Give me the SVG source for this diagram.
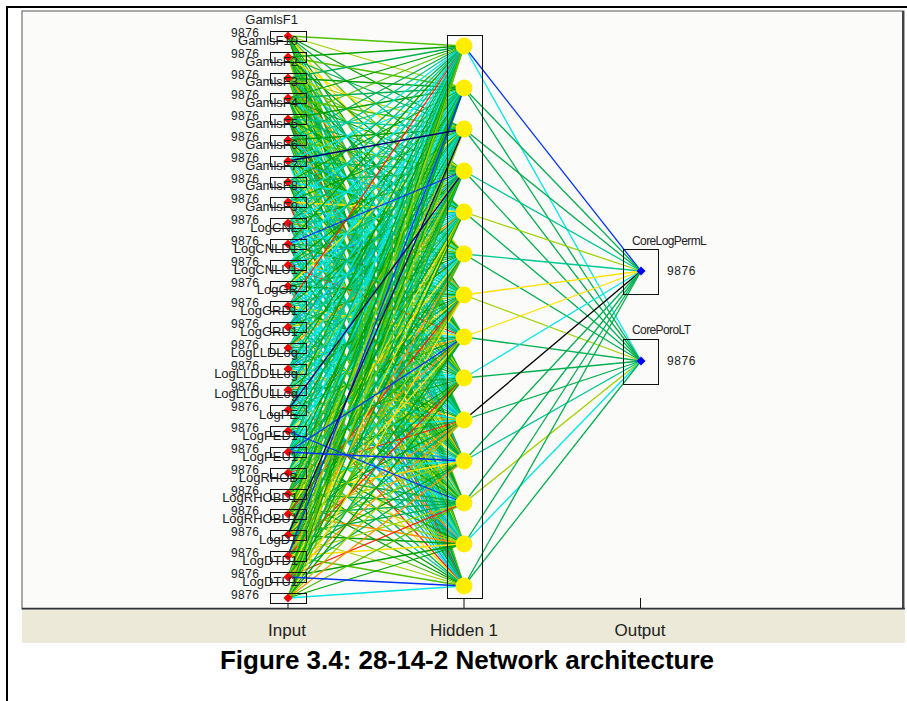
<svg xmlns="http://www.w3.org/2000/svg" width="907" height="701" viewBox="0 0 907 701">
<style>
.nm{font-family:"Liberation Sans",Arial,sans-serif;font-size:13px;fill:#222;text-anchor:end}
.v{font-family:"Liberation Sans",Arial,sans-serif;font-size:12px;fill:#222;letter-spacing:0.4px}
.ov{font-family:"Liberation Sans",Arial,sans-serif;font-size:12px;fill:#222;letter-spacing:0.6px}
.ol{font-family:"Liberation Sans",Arial,sans-serif;font-size:12px;fill:#222;letter-spacing:-0.6px}
.ax{font-family:"Liberation Sans",Arial,sans-serif;font-size:17px;fill:#222;text-anchor:middle}
.cap{font-family:"Liberation Sans",Arial,sans-serif;font-size:26px;font-weight:bold;fill:#000;text-anchor:middle}
.bx{fill:none;stroke:#111;stroke-width:1}
.dm{fill:#ff0000}
.odm{fill:#0000ff}
.hn{fill:#ffee00}
#connectors path{fill:none;stroke-width:1.3}
.a{stroke:#00a000}.b{stroke:#00b050}.c{stroke:#50c000}.d{stroke:#a0d000}.e{stroke:#00c890}.f{stroke:#00e8e8}.g{stroke:#00a8f0}.h{stroke:#ffe000}.k{stroke:#ff9000}.r{stroke:#ff2000}.u{stroke:#0030ff}.n{stroke:#000070}.x{stroke:#000}
</style>
<!-- frame -->
<rect x="0" y="0" width="907" height="701" fill="#fff"/>
<rect x="22" y="11" width="882" height="598" fill="#fbfcfa" stroke="#555" stroke-width="1"/>
<line x1="903" y1="11" x2="903" y2="609" stroke="#444" stroke-width="2"/>
<line x1="22" y1="608.5" x2="905" y2="608.5" stroke="#333" stroke-width="1.5"/>
<rect x="22" y="610" width="883" height="33" fill="#ece9d8"/>
<line x1="6" y1="7" x2="907" y2="7" stroke="#000" stroke-width="2"/>
<line x1="7" y1="6" x2="7" y2="701" stroke="#000" stroke-width="2"/>
<g id="connectors">
<path class="c" d="M288 36 464 46"/><path class="d" d="M288 36 464 88"/><path class="a" d="M288 36 464 129"/><path class="b" d="M288 36 464 171"/><path class="c" d="M288 36 464 212"/><path class="h" d="M288 36 464 254"/><path class="a" d="M288 36 464 295"/><path class="b" d="M288 36 464 337"/><path class="e" d="M288 36 464 378"/><path class="c" d="M288 36 464 420"/><path class="a" d="M288 36 464 461"/><path class="d" d="M288 36 464 503"/><path class="b" d="M288 36 464 544"/><path class="a" d="M288 36 464 586"/>
<path class="a" d="M288 57 464 46"/><path class="c" d="M288 57 464 88"/><path class="b" d="M288 57 464 129"/><path class="h" d="M288 57 464 171"/><path class="a" d="M288 57 464 212"/><path class="d" d="M288 57 464 254"/><path class="b" d="M288 57 464 295"/><path class="c" d="M288 57 464 337"/><path class="a" d="M288 57 464 378"/><path class="e" d="M288 57 464 420"/><path class="b" d="M288 57 464 461"/><path class="c" d="M288 57 464 503"/><path class="a" d="M288 57 464 544"/><path class="d" d="M288 57 464 586"/>
<path class="b" d="M288 78 464 46"/><path class="a" d="M288 78 464 88"/><path class="d" d="M288 78 464 129"/><path class="c" d="M288 78 464 171"/><path class="e" d="M288 78 464 212"/><path class="a" d="M288 78 464 254"/><path class="k" d="M288 78 464 295"/><path class="b" d="M288 78 464 337"/><path class="c" d="M288 78 464 378"/><path class="a" d="M288 78 464 420"/><path class="f" d="M288 78 464 461"/><path class="b" d="M288 78 464 503"/><path class="d" d="M288 78 464 544"/><path class="c" d="M288 78 464 586"/>
<path class="a" d="M288 98 464 46"/><path class="b" d="M288 98 464 88"/><path class="c" d="M288 98 464 129"/><path class="a" d="M288 98 464 171"/><path class="f" d="M288 98 464 212"/><path class="b" d="M288 98 464 254"/><path class="d" d="M288 98 464 295"/><path class="a" d="M288 98 464 337"/><path class="h" d="M288 98 464 378"/><path class="e" d="M288 98 464 420"/><path class="b" d="M288 98 464 461"/><path class="a" d="M288 98 464 503"/><path class="c" d="M288 98 464 544"/><path class="b" d="M288 98 464 586"/>
<path class="c" d="M288 119 464 46"/><path class="a" d="M288 119 464 88"/><path class="e" d="M288 119 464 129"/><path class="b" d="M288 119 464 171"/><path class="a" d="M288 119 464 212"/><path class="d" d="M288 119 464 254"/><path class="f" d="M288 119 464 295"/><path class="b" d="M288 119 464 337"/><path class="c" d="M288 119 464 378"/><path class="a" d="M288 119 464 420"/><path class="r" d="M288 119 464 461"/><path class="b" d="M288 119 464 503"/><path class="e" d="M288 119 464 544"/><path class="a" d="M288 119 464 586"/>
<path class="b" d="M288 140 464 46"/><path class="e" d="M288 140 464 88"/><path class="a" d="M288 140 464 129"/><path class="c" d="M288 140 464 171"/><path class="b" d="M288 140 464 212"/><path class="f" d="M288 140 464 254"/><path class="a" d="M288 140 464 295"/><path class="d" d="M288 140 464 337"/><path class="b" d="M288 140 464 378"/><path class="e" d="M288 140 464 420"/><path class="c" d="M288 140 464 461"/><path class="a" d="M288 140 464 503"/><path class="h" d="M288 140 464 544"/><path class="b" d="M288 140 464 586"/>
<path class="e" d="M288 161 464 46"/><path class="f" d="M288 161 464 88"/><path class="b" d="M288 161 464 171"/><path class="g" d="M288 161 464 212"/><path class="a" d="M288 161 464 254"/><path class="e" d="M288 161 464 295"/><path class="f" d="M288 161 464 337"/><path class="d" d="M288 161 464 378"/><path class="b" d="M288 161 464 420"/><path class="h" d="M288 161 464 461"/><path class="e" d="M288 161 464 503"/><path class="a" d="M288 161 464 544"/><path class="f" d="M288 161 464 586"/>
<path class="f" d="M288 182 464 46"/><path class="a" d="M288 182 464 88"/><path class="e" d="M288 182 464 129"/><path class="b" d="M288 182 464 171"/><path class="f" d="M288 182 464 212"/><path class="d" d="M288 182 464 254"/><path class="e" d="M288 182 464 295"/><path class="g" d="M288 182 464 337"/><path class="a" d="M288 182 464 378"/><path class="f" d="M288 182 464 420"/><path class="b" d="M288 182 464 461"/><path class="k" d="M288 182 464 503"/><path class="e" d="M288 182 464 544"/><path class="a" d="M288 182 464 586"/>
<path class="b" d="M288 202 464 46"/><path class="f" d="M288 202 464 88"/><path class="a" d="M288 202 464 129"/><path class="e" d="M288 202 464 171"/><path class="h" d="M288 202 464 212"/><path class="f" d="M288 202 464 254"/><path class="b" d="M288 202 464 295"/><path class="e" d="M288 202 464 337"/><path class="g" d="M288 202 464 378"/><path class="a" d="M288 202 464 420"/><path class="d" d="M288 202 464 461"/><path class="f" d="M288 202 464 503"/><path class="e" d="M288 202 464 544"/><path class="r" d="M288 202 464 586"/>
<path class="e" d="M288 223 464 46"/><path class="b" d="M288 223 464 88"/><path class="f" d="M288 223 464 129"/><path class="a" d="M288 223 464 171"/><path class="e" d="M288 223 464 212"/><path class="c" d="M288 223 464 254"/><path class="f" d="M288 223 464 295"/><path class="b" d="M288 223 464 337"/><path class="e" d="M288 223 464 378"/><path class="f" d="M288 223 464 420"/><path class="a" d="M288 223 464 461"/><path class="h" d="M288 223 464 503"/><path class="e" d="M288 223 464 544"/><path class="g" d="M288 223 464 586"/>
<path class="a" d="M288 244 464 46"/><path class="e" d="M288 244 464 88"/><path class="f" d="M288 244 464 129"/><path class="f" d="M288 244 464 212"/><path class="b" d="M288 244 464 254"/><path class="a" d="M288 244 464 295"/><path class="e" d="M288 244 464 337"/><path class="d" d="M288 244 464 378"/><path class="f" d="M288 244 464 420"/><path class="e" d="M288 244 464 461"/><path class="b" d="M288 244 464 503"/><path class="f" d="M288 244 464 544"/><path class="a" d="M288 244 464 586"/>
<path class="f" d="M288 265 464 46"/><path class="e" d="M288 265 464 88"/><path class="a" d="M288 265 464 129"/><path class="b" d="M288 265 464 171"/><path class="g" d="M288 265 464 212"/><path class="e" d="M288 265 464 254"/><path class="f" d="M288 265 464 295"/><path class="r" d="M288 265 464 337"/><path class="b" d="M288 265 464 378"/><path class="e" d="M288 265 464 420"/><path class="a" d="M288 265 464 461"/><path class="f" d="M288 265 464 503"/><path class="d" d="M288 265 464 544"/><path class="e" d="M288 265 464 586"/>
<path class="e" d="M288 286 464 46"/><path class="a" d="M288 286 464 88"/><path class="h" d="M288 286 464 129"/><path class="f" d="M288 286 464 171"/><path class="e" d="M288 286 464 212"/><path class="b" d="M288 286 464 254"/><path class="a" d="M288 286 464 295"/><path class="f" d="M288 286 464 337"/><path class="e" d="M288 286 464 378"/><path class="g" d="M288 286 464 420"/><path class="b" d="M288 286 464 461"/><path class="d" d="M288 286 464 503"/><path class="f" d="M288 286 464 544"/><path class="e" d="M288 286 464 586"/>
<path class="r" d="M288 306 464 46"/><path class="f" d="M288 306 464 88"/><path class="e" d="M288 306 464 129"/><path class="a" d="M288 306 464 171"/><path class="f" d="M288 306 464 212"/><path class="b" d="M288 306 464 254"/><path class="e" d="M288 306 464 295"/><path class="h" d="M288 306 464 337"/><path class="a" d="M288 306 464 378"/><path class="f" d="M288 306 464 420"/><path class="e" d="M288 306 464 461"/><path class="b" d="M288 306 464 503"/><path class="g" d="M288 306 464 544"/><path class="a" d="M288 306 464 586"/>
<path class="f" d="M288 327 464 46"/><path class="e" d="M288 327 464 88"/><path class="b" d="M288 327 464 129"/><path class="g" d="M288 327 464 171"/><path class="e" d="M288 327 464 212"/><path class="a" d="M288 327 464 254"/><path class="d" d="M288 327 464 295"/><path class="f" d="M288 327 464 337"/><path class="e" d="M288 327 464 378"/><path class="b" d="M288 327 464 420"/><path class="h" d="M288 327 464 461"/><path class="a" d="M288 327 464 503"/><path class="e" d="M288 327 464 544"/><path class="f" d="M288 327 464 586"/>
<path class="b" d="M288 348 464 46"/><path class="f" d="M288 348 464 88"/><path class="e" d="M288 348 464 129"/><path class="a" d="M288 348 464 171"/><path class="k" d="M288 348 464 212"/><path class="f" d="M288 348 464 254"/><path class="e" d="M288 348 464 295"/><path class="b" d="M288 348 464 337"/><path class="f" d="M288 348 464 378"/><path class="a" d="M288 348 464 420"/><path class="e" d="M288 348 464 461"/><path class="d" d="M288 348 464 503"/><path class="f" d="M288 348 464 544"/><path class="g" d="M288 348 464 586"/>
<path class="e" d="M288 369 464 46"/><path class="a" d="M288 369 464 88"/><path class="f" d="M288 369 464 129"/><path class="e" d="M288 369 464 171"/><path class="b" d="M288 369 464 212"/><path class="g" d="M288 369 464 254"/><path class="a" d="M288 369 464 295"/><path class="e" d="M288 369 464 337"/><path class="f" d="M288 369 464 378"/><path class="h" d="M288 369 464 420"/><path class="b" d="M288 369 464 461"/><path class="e" d="M288 369 464 503"/><path class="k" d="M288 369 464 544"/><path class="f" d="M288 369 464 586"/>
<path class="f" d="M288 390 464 46"/><path class="b" d="M288 390 464 88"/><path class="e" d="M288 390 464 129"/><path class="d" d="M288 390 464 171"/><path class="f" d="M288 390 464 212"/><path class="a" d="M288 390 464 254"/><path class="e" d="M288 390 464 295"/><path class="k" d="M288 390 464 337"/><path class="b" d="M288 390 464 378"/><path class="f" d="M288 390 464 420"/><path class="e" d="M288 390 464 461"/><path class="a" d="M288 390 464 503"/><path class="g" d="M288 390 464 544"/><path class="r" d="M288 390 464 586"/>
<path class="a" d="M288 410 464 46"/><path class="e" d="M288 410 464 88"/><path class="f" d="M288 410 464 129"/><path class="e" d="M288 410 464 212"/><path class="f" d="M288 410 464 254"/><path class="b" d="M288 410 464 295"/><path class="a" d="M288 410 464 337"/><path class="e" d="M288 410 464 378"/><path class="d" d="M288 410 464 420"/><path class="f" d="M288 410 464 461"/><path class="e" d="M288 410 464 503"/><path class="b" d="M288 410 464 544"/><path class="h" d="M288 410 464 586"/>
<path class="e" d="M288 431 464 46"/><path class="f" d="M288 431 464 88"/><path class="a" d="M288 431 464 129"/><path class="e" d="M288 431 464 171"/><path class="b" d="M288 431 464 212"/><path class="f" d="M288 431 464 254"/><path class="h" d="M288 431 464 295"/><path class="e" d="M288 431 464 337"/><path class="a" d="M288 431 464 378"/><path class="f" d="M288 431 464 420"/><path class="g" d="M288 431 464 461"/><path class="e" d="M288 431 464 544"/><path class="b" d="M288 431 464 586"/>
<path class="b" d="M288 452 464 46"/><path class="e" d="M288 452 464 88"/><path class="f" d="M288 452 464 129"/><path class="a" d="M288 452 464 171"/><path class="f" d="M288 452 464 212"/><path class="e" d="M288 452 464 254"/><path class="a" d="M288 452 464 295"/><path class="e" d="M288 452 464 378"/><path class="b" d="M288 452 464 420"/><path class="f" d="M288 452 464 503"/><path class="a" d="M288 452 464 544"/><path class="e" d="M288 452 464 586"/>
<path class="f" d="M288 473 464 46"/><path class="a" d="M288 473 464 88"/><path class="e" d="M288 473 464 129"/><path class="b" d="M288 473 464 171"/><path class="e" d="M288 473 464 212"/><path class="h" d="M288 473 464 254"/><path class="f" d="M288 473 464 295"/><path class="a" d="M288 473 464 337"/><path class="e" d="M288 473 464 378"/><path class="r" d="M288 473 464 420"/><path class="f" d="M288 473 464 461"/><path class="b" d="M288 473 464 503"/><path class="d" d="M288 473 464 544"/><path class="a" d="M288 473 464 586"/>
<path class="a" d="M288 494 464 46"/><path class="c" d="M288 494 464 88"/><path class="b" d="M288 494 464 129"/><path class="d" d="M288 494 464 171"/><path class="a" d="M288 494 464 212"/><path class="e" d="M288 494 464 254"/><path class="b" d="M288 494 464 295"/><path class="k" d="M288 494 464 337"/><path class="a" d="M288 494 464 378"/><path class="c" d="M288 494 464 420"/><path class="h" d="M288 494 464 461"/><path class="b" d="M288 494 464 503"/><path class="d" d="M288 494 464 544"/><path class="a" d="M288 494 464 586"/>
<path class="b" d="M288 514 464 46"/><path class="a" d="M288 514 464 88"/><path class="d" d="M288 514 464 129"/><path class="c" d="M288 514 464 171"/><path class="h" d="M288 514 464 212"/><path class="a" d="M288 514 464 254"/><path class="r" d="M288 514 464 295"/><path class="b" d="M288 514 464 337"/><path class="c" d="M288 514 464 378"/><path class="a" d="M288 514 464 420"/><path class="d" d="M288 514 464 461"/><path class="b" d="M288 514 464 503"/><path class="k" d="M288 514 464 544"/><path class="c" d="M288 514 464 586"/>
<path class="c" d="M288 535 464 46"/><path class="b" d="M288 535 464 88"/><path class="a" d="M288 535 464 171"/><path class="d" d="M288 535 464 212"/><path class="b" d="M288 535 464 254"/><path class="c" d="M288 535 464 295"/><path class="h" d="M288 535 464 337"/><path class="a" d="M288 535 464 378"/><path class="k" d="M288 535 464 420"/><path class="c" d="M288 535 464 461"/><path class="b" d="M288 535 464 503"/><path class="a" d="M288 535 464 544"/><path class="d" d="M288 535 464 586"/>
<path class="a" d="M288 556 464 46"/><path class="c" d="M288 556 464 129"/><path class="b" d="M288 556 464 171"/><path class="a" d="M288 556 464 212"/><path class="k" d="M288 556 464 254"/><path class="d" d="M288 556 464 295"/><path class="c" d="M288 556 464 337"/><path class="r" d="M288 556 464 378"/><path class="b" d="M288 556 464 420"/><path class="a" d="M288 556 464 461"/><path class="d" d="M288 556 464 503"/><path class="h" d="M288 556 464 544"/><path class="c" d="M288 556 464 586"/>
<path class="d" d="M288 577 464 46"/><path class="b" d="M288 577 464 88"/><path class="a" d="M288 577 464 129"/><path class="c" d="M288 577 464 171"/><path class="h" d="M288 577 464 212"/><path class="b" d="M288 577 464 254"/><path class="c" d="M288 577 464 295"/><path class="a" d="M288 577 464 337"/><path class="d" d="M288 577 464 378"/><path class="k" d="M288 577 464 420"/><path class="b" d="M288 577 464 461"/><path class="r" d="M288 577 464 503"/><path class="a" d="M288 577 464 544"/>
<path class="c" d="M288 598 464 46"/><path class="a" d="M288 598 464 88"/><path class="d" d="M288 598 464 129"/><path class="b" d="M288 598 464 171"/><path class="a" d="M288 598 464 212"/><path class="c" d="M288 598 464 254"/><path class="h" d="M288 598 464 295"/><path class="b" d="M288 598 464 337"/><path class="a" d="M288 598 464 378"/><path class="d" d="M288 598 464 420"/><path class="k" d="M288 598 464 461"/><path class="c" d="M288 598 464 503"/><path class="a" d="M288 598 464 544"/><path class="f" d="M288 598 464 586"/>
<path class="u" d="M288 244 464 171"/><path class="u" d="M288 431 464 503"/><path class="u" d="M288 452 464 337"/><path class="u" d="M288 452 464 461"/><path class="u" d="M288 556 464 88"/><path class="u" d="M288 577 464 586"/>
<path class="n" d="M288 161 464 129"/><path class="n" d="M288 410 464 171"/><path class="n" d="M288 535 464 129"/>
<path class="u" d="M464 46 641 271"/><path class="f" d="M464 46 641 361"/>
<path class="b" d="M464 88 641 271"/><path class="b" d="M464 88 641 361"/>
<path class="b" d="M464 129 641 271"/><path class="b" d="M464 129 641 361"/>
<path class="e" d="M464 171 641 271"/><path class="b" d="M464 171 641 361"/>
<path class="d" d="M464 212 641 271"/><path class="b" d="M464 212 641 361"/>
<path class="e" d="M464 254 641 271"/><path class="b" d="M464 254 641 361"/>
<path class="h" d="M464 295 641 271"/><path class="d" d="M464 295 641 361"/>
<path class="h" d="M464 337 641 271"/><path class="b" d="M464 337 641 361"/>
<path class="f" d="M464 378 641 271"/><path class="b" d="M464 378 641 361"/>
<path class="x" d="M464 420 641 271"/><path class="b" d="M464 420 641 361"/>
<path class="b" d="M464 461 641 271"/><path class="e" d="M464 461 641 361"/>
<path class="b" d="M464 503 641 271"/><path class="d" d="M464 503 641 361"/>
<path class="b" d="M464 544 641 271"/><path class="f" d="M464 544 641 361"/>
<path class="b" d="M464 586 641 271"/><path class="b" d="M464 586 641 361"/>
</g>
<g id="axis" stroke="#111" stroke-width="1">
<line x1="288" y1="603" x2="288" y2="608"/>
<line x1="464" y1="598" x2="464" y2="608"/>
<line x1="640.5" y1="598" x2="640.5" y2="608"/>
</g>
<g id="inputs">
<g id="in1"><text class="nm" x="298" y="24">GamlsF1</text><text class="v" x="231" y="37">9876</text><rect class="bx" x="270.5" y="31.5" width="36" height="10"/><path class="dm" d="M288 31.5l4.5 4.5-4.5 4.5-4.5-4.5z"/></g>
<g id="in2"><text class="nm" x="298" y="45">GamlsF10</text><text class="v" x="231" y="58">9876</text><rect class="bx" x="270.5" y="52.5" width="36" height="10"/><path class="dm" d="M288 52.5l4.5 4.5-4.5 4.5-4.5-4.5z"/></g>
<g id="in3"><text class="nm" x="298" y="66">GamlsF2</text><text class="v" x="231" y="79">9876</text><rect class="bx" x="270.5" y="73.5" width="36" height="10"/><path class="dm" d="M288 73.5l4.5 4.5-4.5 4.5-4.5-4.5z"/></g>
<g id="in4"><text class="nm" x="298" y="86">GamlsF3</text><text class="v" x="231" y="99">9876</text><rect class="bx" x="270.5" y="93.5" width="36" height="10"/><path class="dm" d="M288 93.5l4.5 4.5-4.5 4.5-4.5-4.5z"/></g>
<g id="in5"><text class="nm" x="298" y="107">GamlsF4</text><text class="v" x="231" y="120">9876</text><rect class="bx" x="270.5" y="114.5" width="36" height="10"/><path class="dm" d="M288 114.5l4.5 4.5-4.5 4.5-4.5-4.5z"/></g>
<g id="in6"><text class="nm" x="298" y="128">GamlsF5</text><text class="v" x="231" y="141">9876</text><rect class="bx" x="270.5" y="135.5" width="36" height="10"/><path class="dm" d="M288 135.5l4.5 4.5-4.5 4.5-4.5-4.5z"/></g>
<g id="in7"><text class="nm" x="298" y="149">GamlsF6</text><text class="v" x="231" y="162">9876</text><rect class="bx" x="270.5" y="156.5" width="36" height="10"/><path class="dm" d="M288 156.5l4.5 4.5-4.5 4.5-4.5-4.5z"/></g>
<g id="in8"><text class="nm" x="298" y="170">GamlsF7</text><text class="v" x="231" y="183">9876</text><rect class="bx" x="270.5" y="177.5" width="36" height="10"/><path class="dm" d="M288 177.5l4.5 4.5-4.5 4.5-4.5-4.5z"/></g>
<g id="in9"><text class="nm" x="298" y="190">GamlsF8</text><text class="v" x="231" y="203">9876</text><rect class="bx" x="270.5" y="197.5" width="36" height="10"/><path class="dm" d="M288 197.5l4.5 4.5-4.5 4.5-4.5-4.5z"/></g>
<g id="in10"><text class="nm" x="298" y="211">GamlsF9</text><text class="v" x="231" y="224">9876</text><rect class="bx" x="270.5" y="218.5" width="36" height="10"/><path class="dm" d="M288 218.5l4.5 4.5-4.5 4.5-4.5-4.5z"/></g>
<g id="in11"><text class="nm" x="298" y="232">LogCNL</text><text class="v" x="231" y="245">9876</text><rect class="bx" x="270.5" y="239.5" width="36" height="10"/><path class="dm" d="M288 239.5l4.5 4.5-4.5 4.5-4.5-4.5z"/></g>
<g id="in12"><text class="nm" x="298" y="253">LogCNLD1</text><text class="v" x="231" y="266">9876</text><rect class="bx" x="270.5" y="260.5" width="36" height="10"/><path class="dm" d="M288 260.5l4.5 4.5-4.5 4.5-4.5-4.5z"/></g>
<g id="in13"><text class="nm" x="298" y="274">LogCNLU1</text><text class="v" x="231" y="287">9876</text><rect class="bx" x="270.5" y="281.5" width="36" height="10"/><path class="dm" d="M288 281.5l4.5 4.5-4.5 4.5-4.5-4.5z"/></g>
<g id="in14"><text class="nm" x="298" y="294">LogGR</text><text class="v" x="231" y="307">9876</text><rect class="bx" x="270.5" y="301.5" width="36" height="10"/><path class="dm" d="M288 301.5l4.5 4.5-4.5 4.5-4.5-4.5z"/></g>
<g id="in15"><text class="nm" x="298" y="315">LogGRD1</text><text class="v" x="231" y="328">9876</text><rect class="bx" x="270.5" y="322.5" width="36" height="10"/><path class="dm" d="M288 322.5l4.5 4.5-4.5 4.5-4.5-4.5z"/></g>
<g id="in16"><text class="nm" x="298" y="336">LogGRU1</text><text class="v" x="231" y="349">9876</text><rect class="bx" x="270.5" y="343.5" width="36" height="10"/><path class="dm" d="M288 343.5l4.5 4.5-4.5 4.5-4.5-4.5z"/></g>
<g id="in17"><text class="nm" x="298" y="357">LogLLDLog</text><text class="v" x="231" y="370">9876</text><rect class="bx" x="270.5" y="364.5" width="36" height="10"/><path class="dm" d="M288 364.5l4.5 4.5-4.5 4.5-4.5-4.5z"/></g>
<g id="in18"><text class="nm" x="298" y="378">LogLLDD1Log</text><text class="v" x="231" y="391">9876</text><rect class="bx" x="270.5" y="385.5" width="36" height="10"/><path class="dm" d="M288 385.5l4.5 4.5-4.5 4.5-4.5-4.5z"/></g>
<g id="in19"><text class="nm" x="298" y="398">LogLLDU1Log</text><text class="v" x="231" y="411">9876</text><rect class="bx" x="270.5" y="405.5" width="36" height="10"/><path class="dm" d="M288 405.5l4.5 4.5-4.5 4.5-4.5-4.5z"/></g>
<g id="in20"><text class="nm" x="298" y="419">LogPE</text><text class="v" x="231" y="432">9876</text><rect class="bx" x="270.5" y="426.5" width="36" height="10"/><path class="dm" d="M288 426.5l4.5 4.5-4.5 4.5-4.5-4.5z"/></g>
<g id="in21"><text class="nm" x="298" y="440">LogPED1</text><text class="v" x="231" y="453">9876</text><rect class="bx" x="270.5" y="447.5" width="36" height="10"/><path class="dm" d="M288 447.5l4.5 4.5-4.5 4.5-4.5-4.5z"/></g>
<g id="in22"><text class="nm" x="298" y="461">LogPEU1</text><text class="v" x="231" y="474">9876</text><rect class="bx" x="270.5" y="468.5" width="36" height="10"/><path class="dm" d="M288 468.5l4.5 4.5-4.5 4.5-4.5-4.5z"/></g>
<g id="in23"><text class="nm" x="298" y="482">LogRHOB</text><text class="v" x="231" y="495">9876</text><rect class="bx" x="270.5" y="489.5" width="36" height="10"/><path class="dm" d="M288 489.5l4.5 4.5-4.5 4.5-4.5-4.5z"/></g>
<g id="in24"><text class="nm" x="298" y="502">LogRHOBD1</text><text class="v" x="231" y="515">9876</text><rect class="bx" x="270.5" y="509.5" width="36" height="10"/><path class="dm" d="M288 509.5l4.5 4.5-4.5 4.5-4.5-4.5z"/></g>
<g id="in25"><text class="nm" x="298" y="523">LogRHOBU1</text><text class="v" x="231" y="536">9876</text><rect class="bx" x="270.5" y="530.5" width="36" height="10"/><path class="dm" d="M288 530.5l4.5 4.5-4.5 4.5-4.5-4.5z"/></g>
<g id="in26"><text class="nm" x="298" y="544">LogDT</text><text class="v" x="231" y="557">9876</text><rect class="bx" x="270.5" y="551.5" width="36" height="10"/><path class="dm" d="M288 551.5l4.5 4.5-4.5 4.5-4.5-4.5z"/></g>
<g id="in27"><text class="nm" x="298" y="565">LogDTD1</text><text class="v" x="231" y="578">9876</text><rect class="bx" x="270.5" y="572.5" width="36" height="10"/><path class="dm" d="M288 572.5l4.5 4.5-4.5 4.5-4.5-4.5z"/></g>
<g id="in28"><text class="nm" x="298" y="586">LogDTU1</text><text class="v" x="231" y="599">9876</text><rect class="bx" x="270.5" y="593.5" width="36" height="10"/><path class="dm" d="M288 593.5l4.5 4.5-4.5 4.5-4.5-4.5z"/></g>
</g>
<g id="hidden">
<rect class="bx" x="447.5" y="35.5" width="35" height="563"/>
<g id="h1"><circle class="hn" cx="464" cy="46" r="8.5"/></g>
<g id="h2"><circle class="hn" cx="464" cy="88" r="8.5"/></g>
<g id="h3"><circle class="hn" cx="464" cy="129" r="8.5"/></g>
<g id="h4"><circle class="hn" cx="464" cy="171" r="8.5"/></g>
<g id="h5"><circle class="hn" cx="464" cy="212" r="8.5"/></g>
<g id="h6"><circle class="hn" cx="464" cy="254" r="8.5"/></g>
<g id="h7"><circle class="hn" cx="464" cy="295" r="8.5"/></g>
<g id="h8"><circle class="hn" cx="464" cy="337" r="8.5"/></g>
<g id="h9"><circle class="hn" cx="464" cy="378" r="8.5"/></g>
<g id="h10"><circle class="hn" cx="464" cy="420" r="8.5"/></g>
<g id="h11"><circle class="hn" cx="464" cy="461" r="8.5"/></g>
<g id="h12"><circle class="hn" cx="464" cy="503" r="8.5"/></g>
<g id="h13"><circle class="hn" cx="464" cy="544" r="8.5"/></g>
<g id="h14"><circle class="hn" cx="464" cy="586" r="8.5"/></g>
</g>
<g id="out1"><text class="ol" x="632" y="245">CoreLogPermL</text><rect class="bx" x="623.5" y="249.5" width="35" height="45"/><path class="odm" d="M641 266.5l4.5 4.5-4.5 4.5-4.5-4.5z"/><text class="ov" x="667" y="275">9876</text></g>
<g id="out2"><text class="ol" x="632" y="334">CorePoroLT</text><rect class="bx" x="623.5" y="339.5" width="35" height="45"/><path class="odm" d="M641 356.5l4.5 4.5-4.5 4.5-4.5-4.5z"/><text class="ov" x="667" y="365">9876</text></g>
<g id="axis-labels">
<text class="ax" x="287" y="636">Input</text>
<text class="ax" x="464" y="636">Hidden 1</text>
<text class="ax" x="640" y="636">Output</text>
</g>
<text class="cap" x="467" y="669">Figure 3.4: 28-14-2 Network architecture</text>
</svg>
